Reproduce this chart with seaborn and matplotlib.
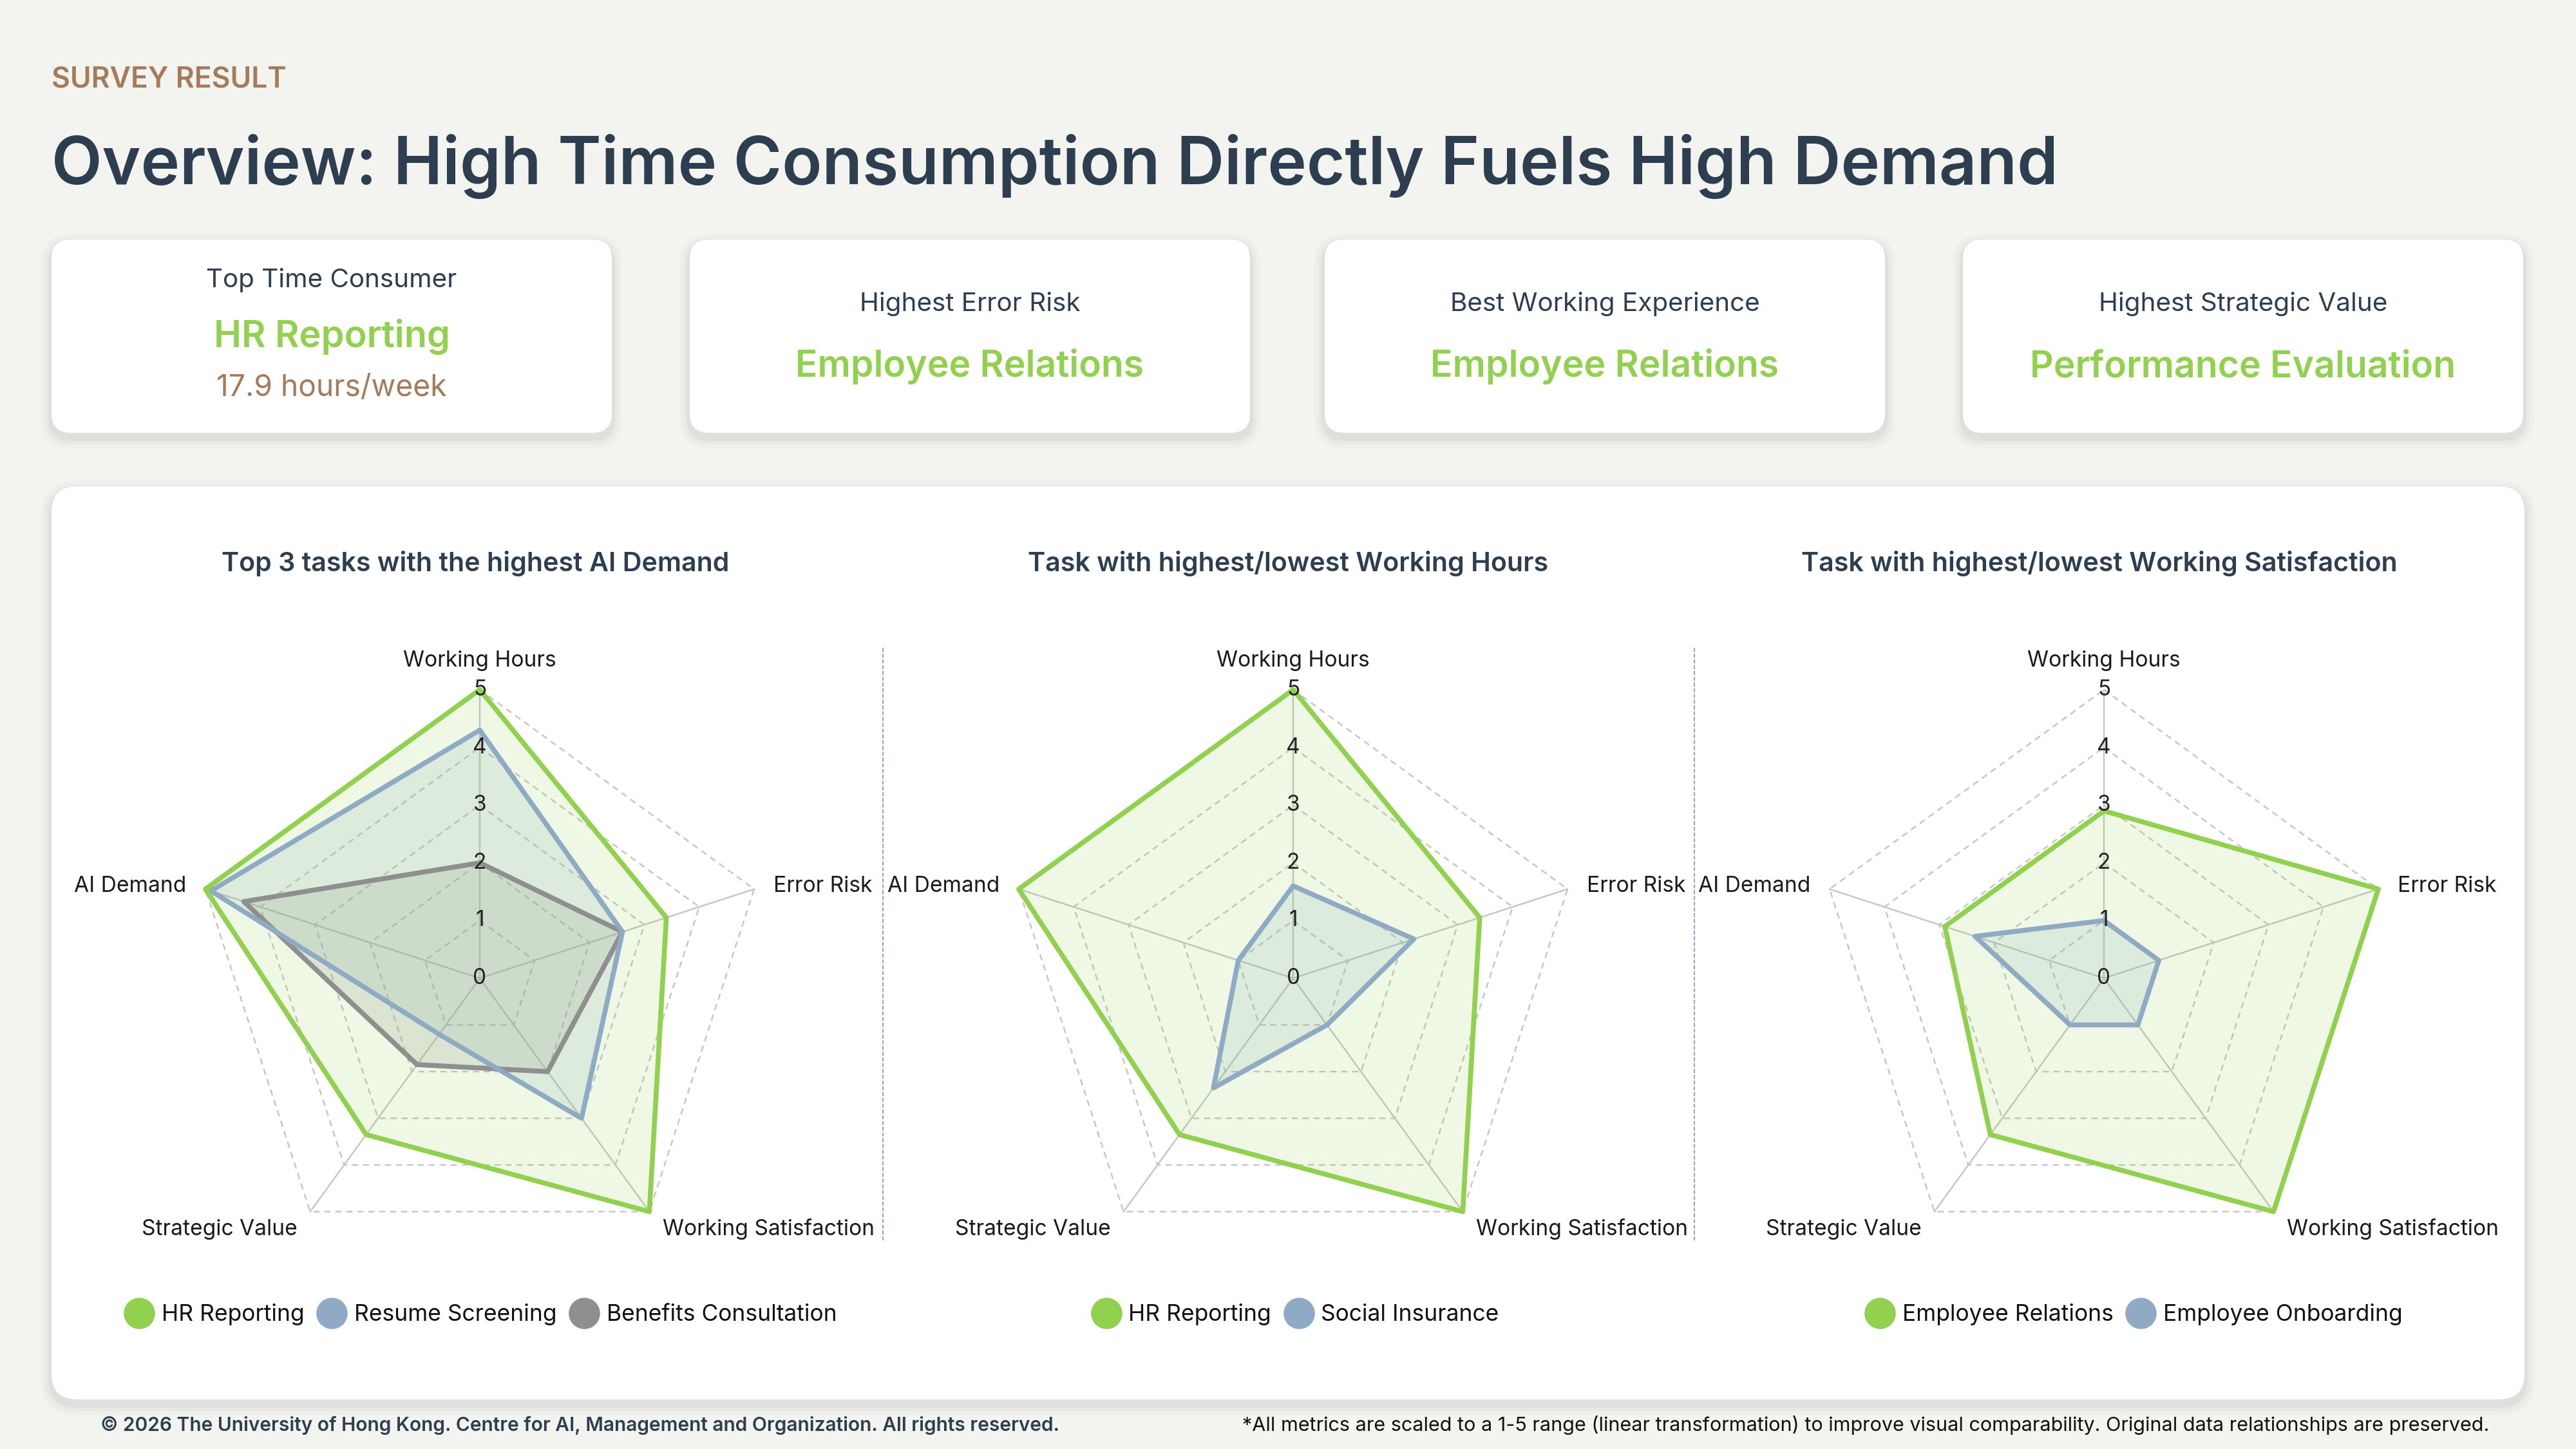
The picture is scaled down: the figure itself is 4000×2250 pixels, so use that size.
import numpy as np
import matplotlib
matplotlib.use("Agg")
import matplotlib.pyplot as plt
import seaborn as sns
from matplotlib.patches import FancyBboxPatch
from matplotlib.lines import Line2D

# Radar metrics (clockwise from top) and scaled scores (0-5)
metrics = ["Working Hours", "Error Risk", "Working Satisfaction", "Strategic Value", "AI Demand"]
ticks = [0, 1, 2, 3, 4, 5]

hr_reporting = [5.0, 3.4, 5.0, 3.35, 5.0]
resume_screening = [4.3, 2.6, 3.0, 1.2, 4.9]
benefits_consultation = [2.0, 2.6, 2.0, 1.85, 4.3]
social_insurance = [1.6, 2.2, 1.0, 2.35, 1.0]
employee_relations = [2.9, 5.0, 5.0, 3.35, 2.9]
employee_onboarding = [1.0, 1.0, 1.0, 1.0, 2.35]

chart_titles = ["Top 3 tasks with the highest AI Demand",
                "Task with highest/lowest Working Hours",
                "Task with highest/lowest Working Satisfaction"]
chart_tasks = [["HR Reporting", "Resume Screening", "Benefits Consultation"],
               ["HR Reporting", "Social Insurance"],
               ["Employee Relations", "Employee Onboarding"]]
chart_values = [[hr_reporting, resume_screening, benefits_consultation],
                [hr_reporting, social_insurance],
                [employee_relations, employee_onboarding]]

# KPI cards
card_labels = ["Top Time Consumer", "Highest Error Risk", "Best Working Experience", "Highest Strategic Value"]
card_values = ["HR Reporting", "Employee Relations", "Employee Relations", "Performance Evaluation"]
card_note = "17.9 hours/week"

kicker = "SURVEY RESULT"
title = "Overview: High Time Consumption Directly Fuels High Demand"
footer_left = "\u00a9 2026 The University of Hong Kong. Centre for AI, Management and Organization. All rights reserved."
footer_right = ("*All metrics are scaled to a 1-5 range (linear transformation) to improve visual comparability. "
                "Original data relationships are preserved.")

GREEN = "#92d050"
BLUE = "#8eaac4"
GREY = "#8f8f8f"
NAVY = "#2c3e50"
BROWN = "#a67b5b"
BG = "#f3f4ef"
series_colors = [[GREEN, BLUE, GREY], [GREEN, BLUE], [GREEN, BLUE]]
fill_alpha = {GREEN: 0.15, BLUE: 0.17, GREY: 0.2}

sns.set_theme(style="white")
plt.rcParams["font.family"] = ["Inter", "DejaVu Sans"]

W, H = 4000, 2250
fig = plt.figure(figsize=(16, 9), dpi=250, facecolor=BG)
bg = fig.add_axes([0, 0, 1, 1])
bg.set_xlim(0, W)
bg.set_ylim(H, 0)
bg.axis("off")
renderer = fig.canvas.get_renderer()


def fit(t, width):
    # scale font so the text spans `width` pixels
    w = t.get_window_extent(renderer).width
    t.set_fontsize(t.get_fontsize() * width / w)
    return t.get_fontsize()


def card(x, y, w, h, r):
    for e, a in [(16, 0.018), (10, 0.025), (5, 0.035)]:
        bg.add_patch(FancyBboxPatch((x - e, y + 8 - e), w + 2 * e, h + 2 * e,
                                    boxstyle=f"round,pad=0,rounding_size={r + e}",
                                    fc="black", ec="none", alpha=a))
    bg.add_patch(FancyBboxPatch((x, y), w, h, boxstyle=f"round,pad=0,rounding_size={r}",
                                fc="white", ec="none"))


# header
t = bg.text(80, 135, kicker, ha="left", va="baseline", color=BROWN, fontsize=12, fontweight="semibold")
fit(t, 364)
t = bg.text(80, 286, title, ha="left", va="baseline", color=NAVY, fontsize=40, fontweight="semibold")
fit(t, 3117)

# cards
card_x = [80, 1071, 2057, 3048]
card_w, card_h, card_y = 870, 300, 372
for x in card_x:
    card(x, card_y, card_w, card_h, 30)

s_label = fit(bg.text(0, 0, card_labels[0], fontsize=12), 390)
s_value = fit(bg.text(0, 0, card_values[1], fontsize=16, fontweight="semibold"), 541)
s_note = fit(bg.text(0, 0, card_note, fontsize=12), 358)
for t in list(bg.texts[-3:]):
    t.remove()

for i, x in enumerate(card_x):
    cx = x + card_w / 2
    if i == 0:
        bg.text(cx, 446, card_labels[i], ha="center", va="baseline", color=NAVY, fontsize=s_label)
        t = bg.text(cx, 539, card_values[i], ha="center", va="baseline", color=GREEN,
                    fontsize=s_value, fontweight="semibold")
        fit(t, 367)
        bg.text(cx, 615, card_note, ha="center", va="baseline", color=BROWN, fontsize=s_note)
    else:
        bg.text(cx, 483, card_labels[i], ha="center", va="baseline", color=NAVY, fontsize=s_label)
        bg.text(cx, 585, card_values[i], ha="center", va="baseline", color=GREEN,
                fontsize=s_value, fontweight="semibold")

# big panel
card(80, 755, 3840, 1418, 40)

# separators
for x in [1371, 2631]:
    bg.plot([x, x], [1006, 1926], color=BLUE, lw=0.6, ls=(0, (3, 1.3)))

# chart titles
title_x = [738, 2000, 3260]
s_ct = fit(bg.text(0, 0, chart_titles[0], fontsize=13, fontweight="semibold"), 789)
bg.texts[-1].remove()
for x, ct in zip(title_x, chart_titles):
    bg.text(x, 887, ct, ha="center", va="baseline", color=NAVY, fontsize=s_ct, fontweight="semibold")

# radar charts
R = 448
cy = 1519
centers = [745, 2008, 3267]
legend_x = [747, 2012, 3314]
angles = np.linspace(0, 2 * np.pi, len(metrics), endpoint=False)
closed = np.append(angles, angles[0])
label_off = [((0, 10.4), "center"), ((8.6, -1.3), "left"), ((6.0, -10.5), "left"),
             ((-5.8, -10.5), "right"), ((-8.4, -1.3), "right")]
s_ax = None

for ci, cx in enumerate(centers):
    ax = fig.add_axes([(cx - R) / W, 1 - (cy + R) / H, 2 * R / W, 2 * R / H], projection="polar")
    ax.set_theta_offset(np.pi / 2)
    ax.set_theta_direction(-1)
    ax.set_facecolor("none")
    ax.grid(False)
    ax.spines["polar"].set_visible(False)
    ax.set_xticks([])
    ax.set_yticks([])

    for k in ticks[1:]:
        ax.plot(closed, [k] * len(closed), color="#c6c6c6", lw=0.7, ls=(0, (4, 3)), zorder=1, clip_on=False)
    for a in angles:
        ax.plot([a, a], [0, ticks[-1]], color="#c6c6c6", lw=0.7, zorder=1, clip_on=False)

    tasks = chart_tasks[ci]
    vals = chart_values[ci]
    cols = series_colors[ci]
    for name, v, c in list(zip(tasks, vals, cols))[::-1]:
        v = np.append(v, v[0])
        ax.fill(closed, v, color=c, alpha=fill_alpha[c], lw=0, zorder=2)
        ax.plot(closed, v, color=c, lw=2.2, zorder=3, clip_on=False)

    for k in ticks:
        ax.text(0, k, str(k), ha="center", va="center", fontsize=9.6, color="#222222", zorder=5)

    for a, m, (off, ha) in zip(angles, metrics, label_off):
        t = ax.annotate(m, xy=(a, ticks[-1]), xytext=off, textcoords="offset points",
                        ha=ha, va="baseline", fontsize=10, color="#1a1a1a", annotation_clip=False)
        if s_ax is None:
            s_ax = fit(t, 237)
        t.set_fontsize(s_ax)

    ax.set_ylim(0, ticks[-1])

    handles = [Line2D([0], [0], marker="o", ls="", markersize=13, markerfacecolor=c, markeredgecolor=c)
               for c in cols]
    ax.legend(handles, tasks, loc="center", ncol=len(tasks), frameon=False, fontsize=10.2,
              bbox_to_anchor=((legend_x[ci] - (cx - R)) / (2 * R), -0.0826),
              handlelength=1.2, handletextpad=0.38, columnspacing=0.6, labelcolor="#111111")

# footer
t = bg.text(156, 2222, footer_left, ha="left", va="baseline", color=NAVY, fontsize=9, fontweight="semibold")
fit(t, 1492)
t = bg.text(3865, 2222, footer_right, ha="right", va="baseline", color="#111111", fontsize=9)
fit(t, 1938)

fig.savefig("out.png", dpi=250, facecolor=BG)
